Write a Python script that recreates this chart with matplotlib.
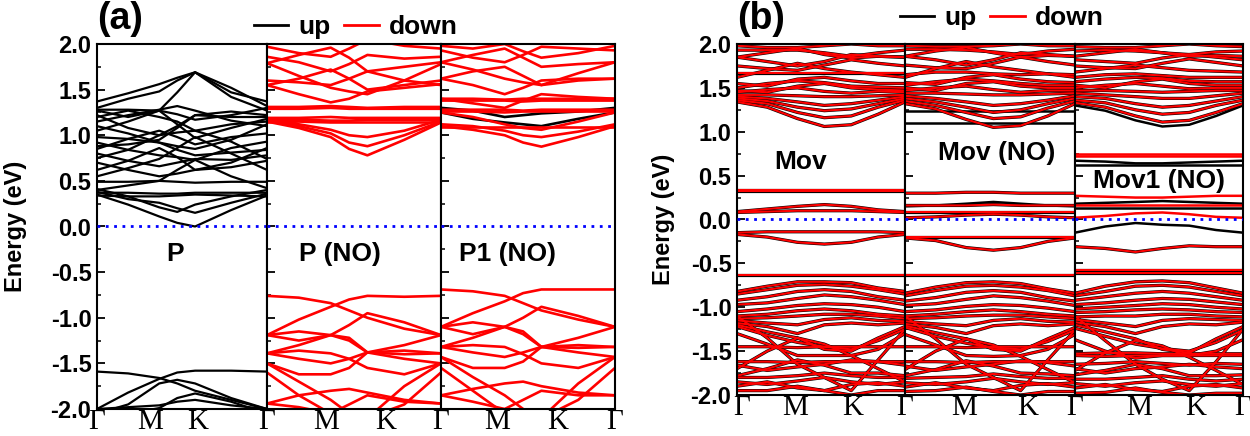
import matplotlib
matplotlib.use("Agg")
import matplotlib.pyplot as plt
from matplotlib.lines import Line2D
from matplotlib.ticker import MultipleLocator

plt.rcParams['font.family'] = ['Liberation Sans', 'DejaVu Sans']
plt.rcParams['axes.unicode_minus'] = False

# ---------------- data ----------------
# k positions (fraction of path) for panel (a) and (b): G, mid, M, mid, K, mid, G
k_a = [0, 0.183, 0.366, 0.472, 0.577, 0.789, 1.0]
k_b = [0, 0.18, 0.36, 0.52, 0.68, 0.84, 1.0]
kpath_labels = ['Γ', 'M', 'K', 'Γ']

# (a) P : spin up (black)
P_up = [
    [1.37, 1.46, 1.56, 1.63, 1.69, 1.47, 1.37],
    [1.30, 1.40, 1.48, 1.60, 1.69, 1.52, 1.32],
    [1.28, 1.28, 1.27, 1.47, 1.69, 1.42, 1.27],
    [1.27, 1.20, 1.27, 1.23, 1.17, 1.22, 1.30],
    [1.22, 1.08, 1.00, 1.10, 1.22, 1.26, 1.22],
    [1.15, 1.22, 1.28, 1.32, 1.27, 1.16, 1.10],
    [1.05, 1.15, 1.27, 1.12, 0.97, 1.08, 1.18],
    [0.98, 0.96, 1.05, 0.98, 0.90, 0.98, 1.02],
    [0.92, 0.84, 0.78, 0.76, 0.73, 0.86, 0.93],
    [0.85, 0.96, 0.92, 0.84, 0.78, 0.81, 0.84],
    [0.80, 0.72, 0.66, 0.70, 0.74, 0.73, 0.78],
    [0.75, 0.84, 1.00, 1.03, 1.05, 0.93, 0.74],
    [0.62, 0.72, 0.86, 0.76, 0.62, 0.70, 0.86],
    [0.55, 0.64, 0.74, 0.86, 0.98, 0.80, 0.62],
    [0.70, 0.62, 0.55, 0.58, 0.62, 0.65, 0.72],
    [1.10, 1.02, 0.92, 0.88, 0.85, 0.95, 1.12],
    [0.88, 0.90, 0.95, 1.08, 1.22, 1.20, 1.20],
    [1.20, 1.27, 1.20, 1.15, 1.05, 1.12, 1.15],
    [0.49, 0.49, 0.50, 0.49, 0.48, 0.49, 0.49],
    [0.40, 0.45, 0.50, 0.62, 0.73, 0.55, 0.42],
    [0.37, 0.37, 0.36, 0.36, 0.37, 0.37, 0.37],
    [0.34, 0.33, 0.33, 0.34, 0.35, 0.34, 0.33],
    [0.38, 0.30, 0.26, 0.20, 0.15, 0.26, 0.36],
    [0.41, 0.33, 0.21, 0.16, 0.24, 0.33, 0.40],
    [0.35, 0.24, 0.11, 0.04, 0.00, 0.18, 0.34],
    [-1.59, -1.61, -1.66, -1.72, -1.80, -1.90, -2.00],
    [-2.00, -1.82, -1.67, -1.60, -1.58, -1.58, -1.59],
    [-2.05, -1.95, -1.72, -1.68, -1.72, -1.88, -2.00],
    [-2.10, -2.05, -1.99, -1.88, -1.83, -1.92, -2.05],
    [-2.00, -1.98, -1.96, -1.92, -1.90, -1.96, -2.00],
]

# (a) P (NO) : spin down (red)
PNO_down = [
    [1.31, 1.31, 1.32, 1.31, 1.30, 1.31, 1.31],
    [1.29, 1.29, 1.30, 1.29, 1.29, 1.29, 1.29],
    [1.19, 1.19, 1.20, 1.19, 1.19, 1.19, 1.19],
    [1.17, 1.17, 1.16, 1.16, 1.17, 1.17, 1.17],
    [1.14, 1.15, 1.14, 1.14, 1.14, 1.14, 1.14],
    [1.15, 1.08, 0.98, 0.85, 0.78, 0.95, 1.14],
    [1.16, 1.10, 1.02, 0.92, 0.88, 1.00, 1.15],
    [1.18, 1.12, 1.06, 1.00, 0.98, 1.05, 1.17],
    [1.55, 1.45, 1.36, 1.40, 1.48, 1.52, 1.56],
    [1.55, 1.62, 1.72, 1.62, 1.50, 1.55, 1.60],
    [1.79, 1.65, 1.52, 1.48, 1.45, 1.60, 1.78],
    [1.79, 1.88, 1.96, 1.85, 1.70, 1.75, 1.80],
    [1.86, 1.80, 1.70, 1.78, 1.88, 1.84, 1.86],
    [1.97, 1.90, 1.86, 1.95, 2.05, 1.98, 1.95],
    [1.60, 1.58, 1.55, 1.62, 1.70, 1.60, 1.55],
    [-0.76, -0.78, -0.84, -0.92, -1.00, -1.12, -1.19],
    [-1.19, -1.02, -0.88, -0.80, -0.76, -0.77, -0.76],
    [-1.19, -1.15, -1.19, -1.08, -0.95, -1.05, -1.19],
    [-1.19, -1.25, -1.19, -1.25, -1.38, -1.30, -1.19],
    [-1.39, -1.30, -1.19, -1.22, -1.38, -1.36, -1.39],
    [-1.39, -1.45, -1.50, -1.45, -1.38, -1.40, -1.39],
    [-1.39, -1.36, -1.39, -1.45, -1.55, -1.62, -1.50],
    [-1.50, -1.62, -1.62, -1.55, -1.38, -1.45, -1.50],
    [-1.50, -1.70, -1.90, -2.05, -2.10, -1.75, -1.50],
    [-1.94, -1.85, -1.80, -1.78, -1.82, -1.90, -1.94],
    [-1.94, -1.98, -2.05, -1.95, -1.85, -1.92, -1.94],
    [-1.60, -1.85, -2.05, -2.10, -2.10, -1.95, -1.60],
]

# (a) P1 (NO)
P1NO_up = [
    [1.25, 1.18, 1.14, 1.12, 1.10, 1.18, 1.25],
    [1.30, 1.27, 1.20, 1.22, 1.24, 1.26, 1.30],
]
P1NO_down = [
    [1.09, 1.09, 1.09, 1.09, 1.09, 1.09, 1.09],
    [1.10, 1.06, 1.00, 0.92, 0.875, 0.98, 1.10],
    [1.12, 1.10, 1.05, 1.00, 0.98, 1.04, 1.12],
    [1.25, 1.20, 1.12, 1.08, 1.06, 1.15, 1.25],
    [1.26, 1.26, 1.25, 1.26, 1.26, 1.26, 1.26],
    [1.28, 1.28, 1.28, 1.27, 1.28, 1.28, 1.28],
    [1.38, 1.38, 1.38, 1.37, 1.38, 1.38, 1.38],
    [1.40, 1.40, 1.39, 1.40, 1.40, 1.40, 1.40],
    [1.40, 1.35, 1.30, 1.38, 1.45, 1.42, 1.40],
    [1.62, 1.55, 1.45, 1.52, 1.60, 1.62, 1.62],
    [1.62, 1.70, 1.75, 1.65, 1.55, 1.60, 1.62],
    [1.80, 1.72, 1.62, 1.58, 1.55, 1.68, 1.80],
    [1.80, 1.88, 1.95, 1.85, 1.75, 1.78, 1.80],
    [1.93, 1.85, 1.80, 1.88, 1.97, 1.95, 1.93],
    [1.98, 1.95, 2.00, 1.92, 1.85, 1.90, 1.98],
    [-0.69, -0.71, -0.76, -0.84, -0.92, -1.02, -1.10],
    [-1.10, -0.95, -0.82, -0.73, -0.69, -0.69, -0.69],
    [-1.10, -1.05, -1.10, -1.00, -0.88, -0.98, -1.10],
    [-1.10, -1.18, -1.10, -1.18, -1.32, -1.22, -1.10],
    [-1.32, -1.22, -1.10, -1.15, -1.32, -1.30, -1.32],
    [-1.32, -1.38, -1.43, -1.38, -1.32, -1.33, -1.32],
    [-1.32, -1.30, -1.32, -1.40, -1.50, -1.55, -1.43],
    [-1.43, -1.55, -1.55, -1.48, -1.32, -1.38, -1.43],
    [-1.43, -1.65, -1.85, -2.00, -2.10, -1.72, -1.43],
    [-1.85, -1.78, -1.72, -1.70, -1.75, -1.82, -1.85],
    [-1.85, -1.92, -2.00, -1.90, -1.80, -1.85, -1.85],
    [-1.55, -1.80, -2.05, -2.10, -2.10, -1.90, -1.55],
]

# (b) Mov : up and down nearly identical
Mov_bands = [
    [1.34, 1.28, 1.15, 1.06, 1.08, 1.20, 1.34],
    [1.36, 1.32, 1.22, 1.16, 1.18, 1.28, 1.36],
    [1.38, 1.35, 1.28, 1.24, 1.26, 1.32, 1.38],
    [1.40, 1.38, 1.34, 1.30, 1.32, 1.36, 1.40],
    [1.42, 1.42, 1.41, 1.40, 1.40, 1.41, 1.42],
    [1.45, 1.48, 1.50, 1.46, 1.44, 1.46, 1.45],
    [1.47, 1.45, 1.52, 1.55, 1.50, 1.48, 1.47],
    [1.50, 1.55, 1.58, 1.56, 1.52, 1.51, 1.50],
    [1.55, 1.52, 1.60, 1.62, 1.58, 1.55, 1.55],
    [1.67, 1.67, 1.67, 1.67, 1.67, 1.67, 1.67],
    [1.62, 1.70, 1.78, 1.72, 1.68, 1.65, 1.62],
    [1.75, 1.72, 1.70, 1.76, 1.82, 1.78, 1.75],
    [1.85, 1.80, 1.75, 1.80, 1.88, 1.86, 1.85],
    [1.85, 1.90, 1.95, 1.88, 1.84, 1.86, 1.85],
    [1.93, 1.93, 1.93, 1.90, 1.86, 1.90, 1.93],
    [1.98, 1.96, 1.96, 1.98, 2.00, 1.98, 1.98],
    [0.33, 0.33, 0.33, 0.33, 0.33, 0.33, 0.33],
    [0.34, 0.34, 0.34, 0.34, 0.34, 0.34, 0.34],
    [0.09, 0.12, 0.15, 0.17, 0.15, 0.11, 0.09],
    [0.08, 0.09, 0.10, 0.10, 0.10, 0.09, 0.08],
    [-0.17, -0.20, -0.26, -0.28, -0.26, -0.20, -0.17],
    [-0.15, -0.14, -0.14, -0.14, -0.14, -0.14, -0.15],
    [-0.63, -0.63, -0.63, -0.63, -0.63, -0.63, -0.63],
    [-0.82, -0.76, -0.71, -0.71, -0.72, -0.78, -0.82],
    [-0.85, -0.80, -0.75, -0.74, -0.76, -0.80, -0.85],
    [-0.92, -0.88, -0.82, -0.80, -0.82, -0.88, -0.92],
    [-0.97, -0.95, -0.90, -0.86, -0.88, -0.92, -0.97],
    [-1.05, -1.02, -0.98, -0.96, -0.97, -1.00, -1.05],
    [-1.10, -1.08, -1.04, -1.02, -1.04, -1.08, -1.10],
    [-1.13, -1.12, -1.10, -1.08, -1.08, -1.10, -1.13],
    [-1.15, -1.18, -1.20, -1.14, -1.12, -1.15, -1.16],
    [-1.18, -1.22, -1.30, -1.20, -1.18, -1.20, -1.18],
    [-1.20, -1.28, -1.35, -1.48, -1.50, -1.35, -1.22],
    [-1.22, -1.32, -1.40, -1.45, -1.48, -1.38, -1.25],
    [-1.45, -1.45, -1.46, -1.45, -1.45, -1.45, -1.45],
    [-1.30, -1.42, -1.55, -1.55, -1.55, -1.48, -1.30],
    [-1.62, -1.62, -1.63, -1.62, -1.62, -1.62, -1.62],
    [-1.66, -1.72, -1.68, -1.65, -1.60, -1.62, -1.66],
    [-1.78, -1.70, -1.60, -1.66, -1.75, -1.75, -1.78],
    [-1.80, -1.80, -1.78, -1.75, -1.78, -1.80, -1.80],
    [-1.85, -1.88, -1.84, -1.80, -1.85, -1.88, -1.85],
    [-1.90, -1.85, -1.92, -1.95, -1.88, -1.86, -1.90],
    [-1.95, -1.95, -1.90, -1.95, -2.00, -1.95, -1.95],
    [-1.10, -1.35, -1.65, -1.80, -1.95, -1.60, -1.25],
    [-1.70, -1.50, -1.35, -1.42, -1.55, -1.70, -1.85],
]

# (b) Mov (NO)
MovNO_up = [
    [1.24, 1.24, 1.24, 1.24, 1.24, 1.24, 1.24],
    [1.10, 1.10, 1.10, 1.10, 1.10, 1.10, 1.10],
    [0.15, 0.16, 0.18, 0.20, 0.18, 0.16, 0.15],
]
MovNO_down = [
    [1.32, 1.26, 1.14, 1.05, 1.07, 1.18, 1.32],
    [1.35, 1.30, 1.22, 1.15, 1.17, 1.27, 1.35],
    [1.38, 1.34, 1.28, 1.22, 1.25, 1.32, 1.38],
    [1.41, 1.38, 1.34, 1.30, 1.32, 1.36, 1.41],
    [1.44, 1.44, 1.43, 1.42, 1.42, 1.43, 1.44],
    [1.47, 1.50, 1.52, 1.48, 1.45, 1.47, 1.47],
    [1.50, 1.47, 1.55, 1.57, 1.52, 1.50, 1.50],
    [1.53, 1.57, 1.60, 1.58, 1.55, 1.53, 1.53],
    [1.56, 1.54, 1.62, 1.65, 1.60, 1.57, 1.56],
    [1.65, 1.68, 1.68, 1.66, 1.65, 1.66, 1.65],
    [1.62, 1.72, 1.80, 1.74, 1.70, 1.66, 1.62],
    [1.76, 1.73, 1.72, 1.78, 1.85, 1.80, 1.76],
    [1.86, 1.82, 1.76, 1.82, 1.90, 1.88, 1.86],
    [1.86, 1.92, 1.96, 1.90, 1.85, 1.87, 1.86],
    [1.94, 1.94, 1.93, 1.91, 1.88, 1.92, 1.94],
    [1.98, 1.97, 1.97, 1.98, 2.00, 1.98, 1.98],
    [0.30, 0.30, 0.31, 0.31, 0.30, 0.30, 0.30],
    [0.16, 0.16, 0.16, 0.17, 0.16, 0.16, 0.16],
    [0.09, 0.09, 0.09, 0.09, 0.09, 0.09, 0.09],
    [0.02, 0.03, 0.05, 0.06, 0.05, 0.03, 0.02],
    [-0.21, -0.24, -0.32, -0.35, -0.32, -0.25, -0.21],
    [-0.20, -0.20, -0.20, -0.20, -0.20, -0.20, -0.20],
    [-0.63, -0.63, -0.63, -0.63, -0.63, -0.63, -0.63],
    [-0.84, -0.77, -0.72, -0.71, -0.73, -0.79, -0.84],
    [-0.87, -0.81, -0.76, -0.75, -0.77, -0.81, -0.87],
    [-0.93, -0.89, -0.83, -0.81, -0.83, -0.89, -0.93],
    [-0.98, -0.96, -0.91, -0.87, -0.89, -0.93, -0.98],
    [-1.05, -1.03, -0.99, -0.97, -0.98, -1.01, -1.05],
    [-1.10, -1.08, -1.05, -1.03, -1.05, -1.08, -1.10],
    [-1.13, -1.12, -1.10, -1.09, -1.09, -1.11, -1.13],
    [-1.16, -1.19, -1.21, -1.15, -1.13, -1.16, -1.17],
    [-1.19, -1.23, -1.30, -1.21, -1.19, -1.21, -1.19],
    [-1.21, -1.29, -1.36, -1.48, -1.50, -1.36, -1.23],
    [-1.23, -1.33, -1.41, -1.46, -1.48, -1.39, -1.26],
    [-1.45, -1.45, -1.46, -1.45, -1.45, -1.45, -1.45],
    [-1.31, -1.43, -1.55, -1.56, -1.55, -1.48, -1.31],
    [-1.62, -1.62, -1.63, -1.62, -1.62, -1.62, -1.62],
    [-1.67, -1.72, -1.68, -1.65, -1.61, -1.63, -1.67],
    [-1.78, -1.71, -1.61, -1.67, -1.75, -1.76, -1.78],
    [-1.81, -1.80, -1.79, -1.76, -1.79, -1.81, -1.81],
    [-1.86, -1.88, -1.85, -1.81, -1.85, -1.88, -1.86],
    [-1.91, -1.86, -1.92, -1.95, -1.89, -1.87, -1.91],
    [-1.96, -1.95, -1.91, -1.96, -2.00, -1.96, -1.96],
    [-1.10, -1.36, -1.65, -1.80, -1.95, -1.60, -1.26],
    [-1.71, -1.50, -1.36, -1.43, -1.56, -1.71, -1.86],
]

# (b) Mov1 (NO)
Mov1NO_up = [
    [1.30, 1.24, 1.13, 1.06, 1.08, 1.18, 1.30],
    [0.67, 0.66, 0.64, 0.64, 0.65, 0.66, 0.67],
    [0.62, 0.62, 0.62, 0.62, 0.62, 0.62, 0.62],
    [0.18, 0.19, 0.20, 0.21, 0.20, 0.19, 0.18],
    [0.13, 0.13, 0.13, 0.13, 0.13, 0.13, 0.13],
    [-0.15, -0.08, -0.04, -0.06, -0.07, -0.12, -0.15],
]
Mov1NO_down = [
    [0.75, 0.75, 0.75, 0.75, 0.75, 0.75, 0.75],
    [0.72, 0.72, 0.72, 0.72, 0.72, 0.72, 0.72],
    [0.27, 0.26, 0.25, 0.25, 0.26, 0.27, 0.27],
    [0.16, 0.16, 0.16, 0.16, 0.16, 0.16, 0.16],
    [0.02, 0.04, 0.07, 0.08, 0.06, 0.03, 0.02],
]
Mov1NO_both = [
    [1.33, 1.28, 1.18, 1.11, 1.13, 1.22, 1.32],
    [1.36, 1.33, 1.25, 1.20, 1.22, 1.30, 1.36],
    [1.40, 1.38, 1.32, 1.28, 1.30, 1.35, 1.40],
    [1.44, 1.42, 1.40, 1.38, 1.38, 1.41, 1.44],
    [1.47, 1.47, 1.46, 1.45, 1.46, 1.47, 1.47],
    [1.50, 1.53, 1.55, 1.52, 1.49, 1.50, 1.50],
    [1.53, 1.50, 1.57, 1.60, 1.55, 1.53, 1.53],
    [1.57, 1.60, 1.62, 1.61, 1.58, 1.57, 1.57],
    [1.62, 1.65, 1.66, 1.64, 1.62, 1.62, 1.62],
    [1.68, 1.72, 1.76, 1.73, 1.70, 1.69, 1.68],
    [1.75, 1.73, 1.72, 1.78, 1.83, 1.79, 1.75],
    [1.82, 1.80, 1.78, 1.84, 1.88, 1.85, 1.82],
    [1.86, 1.90, 1.94, 1.90, 1.86, 1.87, 1.86],
    [1.92, 1.93, 1.92, 1.90, 1.88, 1.91, 1.92],
    [1.97, 1.96, 1.96, 1.98, 2.00, 1.98, 1.97],
    [-0.31, -0.33, -0.37, -0.33, -0.30, -0.31, -0.31],
    [-0.57, -0.57, -0.57, -0.57, -0.57, -0.57, -0.57],
    [-0.61, -0.61, -0.61, -0.61, -0.61, -0.61, -0.61],
    [-0.84, -0.76, -0.71, -0.70, -0.72, -0.78, -0.84],
    [-0.87, -0.82, -0.76, -0.75, -0.77, -0.82, -0.87],
    [-0.92, -0.88, -0.84, -0.82, -0.84, -0.88, -0.92],
    [-0.97, -0.95, -0.92, -0.90, -0.91, -0.94, -0.97],
    [-1.02, -1.00, -0.98, -0.96, -0.97, -1.00, -1.02],
    [-1.06, -1.05, -1.03, -1.02, -1.03, -1.05, -1.06],
    [-1.11, -1.10, -1.10, -1.08, -1.08, -1.10, -1.11],
    [-1.14, -1.18, -1.22, -1.15, -1.13, -1.14, -1.15],
    [-1.17, -1.22, -1.30, -1.22, -1.19, -1.20, -1.17],
    [-1.20, -1.28, -1.36, -1.48, -1.52, -1.36, -1.22],
    [-1.24, -1.33, -1.42, -1.47, -1.50, -1.40, -1.26],
    [-1.37, -1.50, -1.58, -1.55, -1.55, -1.50, -1.37],
    [-1.53, -1.52, -1.52, -1.53, -1.53, -1.53, -1.53],
    [-1.55, -1.56, -1.55, -1.55, -1.55, -1.55, -1.55],
    [-1.65, -1.64, -1.62, -1.64, -1.66, -1.64, -1.65],
    [-1.70, -1.75, -1.70, -1.68, -1.65, -1.68, -1.70],
    [-1.77, -1.72, -1.65, -1.70, -1.78, -1.78, -1.77],
    [-1.82, -1.82, -1.80, -1.78, -1.82, -1.84, -1.82],
    [-1.87, -1.90, -1.86, -1.84, -1.88, -1.90, -1.87],
    [-1.92, -1.88, -1.94, -1.96, -1.90, -1.88, -1.92],
    [-1.98, -1.97, -1.92, -1.97, -2.00, -1.98, -1.98],
    [-1.10, -1.38, -1.65, -1.82, -1.95, -1.62, -1.25],
    [-1.72, -1.52, -1.38, -1.44, -1.57, -1.72, -1.88],
]

panel_a_names = ['P', 'P (NO)', 'P1 (NO)']
panel_b_names = ['Mov', 'Mov (NO)', 'Mov1 (NO)']
yticks = [-2.0, -1.5, -1.0, -0.5, 0.0, 0.5, 1.0, 1.5, 2.0]

# ---------------- figure ----------------
W, H = 1250, 436
fig = plt.figure(figsize=(W / 100, H / 100), dpi=100)


def px_axes(x0, x1, ytop, ybot):
    return fig.add_axes([x0 / W, 1 - ybot / H, (x1 - x0) / W, (ybot - ytop) / H])


def draw(ax, k, bands, color, lw):
    for b in bands:
        ax.plot(k, b, color=color, lw=lw, solid_joinstyle='round')


def style(ax, first, label_pos):
    ax.set_xlim(0, 1)
    ax.set_ylim(-2, 2)
    ax.axhline(0, color='blue', ls=(0, (1, 2)), lw=2.0, zorder=5)
    ax.yaxis.set_major_locator(MultipleLocator(0.5))
    ax.yaxis.set_minor_locator(MultipleLocator(0.25))
    ax.tick_params(axis='y', which='major', direction='in', length=6, width=1.3,
                   labelsize=17, pad=4)
    ax.tick_params(axis='y', which='minor', direction='in', length=3, width=1.1)
    if first:
        ax.set_yticks(yticks)
        ax.set_yticklabels(['%.1f' % v for v in yticks], fontweight='bold')
    else:
        ax.tick_params(axis='y', labelleft=False)
    ax.set_xticks(label_pos)
    labs = kpath_labels if first else kpath_labels[1:]
    ax.set_xticklabels(labs, family=['Liberation Serif', 'DejaVu Serif'], fontsize=21)
    ax.tick_params(axis='x', length=0, pad=0)
    for s in ax.spines.values():
        s.set_linewidth(1.5)


# ---- panel (a) ----
a_edges = [97, 267, 441, 615]
axa = [px_axes(a_edges[i], a_edges[i + 1], 44, 409) for i in range(3)]
draw(axa[0], k_a, P_up, 'black', 1.6)
draw(axa[1], k_a, PNO_down, 'red', 1.9)
draw(axa[2], k_a, P1NO_up, 'black', 1.9)
draw(axa[2], k_a, P1NO_down, 'red', 1.9)
style(axa[0], True, [0, 0.31, 0.59, 1.0])
style(axa[1], False, [0.34, 0.68, 1.0])
style(axa[2], False, [0.32, 0.67, 1.0])
axa[0].set_ylabel('Energy (eV)', fontsize=17, fontweight='bold')
axa[0].yaxis.set_label_coords(-0.41, 0.5)
for ax, name, tx in zip(axa, panel_a_names, [0.46, 0.42, 0.38]):
    ax.text(tx, -0.30, name, fontsize=19, fontweight='bold', ha='center', va='center', zorder=6)

# ---- panel (b) ----
b_edges = [737, 905, 1075, 1243]
axb = [px_axes(b_edges[i], b_edges[i + 1], 44, 395) for i in range(3)]
draw(axb[0], k_b, Mov_bands, 'black', 2.3)
draw(axb[0], k_b, Mov_bands, 'red', 1.5)
draw(axb[1], k_b, MovNO_up, 'black', 1.8)
draw(axb[1], k_b, MovNO_down, 'black', 2.3)
draw(axb[1], k_b, MovNO_down, 'red', 1.5)
draw(axb[2], k_b, Mov1NO_up, 'black', 1.8)
draw(axb[2], k_b, Mov1NO_both, 'black', 2.3)
draw(axb[2], k_b, Mov1NO_both, 'red', 1.5)
draw(axb[2], k_b, Mov1NO_down, 'red', 1.8)
style(axb[0], True, [0.03, 0.345, 0.69, 0.995])
style(axb[1], False, [0.35, 0.72, 1.0])
style(axb[2], False, [0.38, 0.72, 1.0])
axb[0].set_ylabel('Energy (eV)', fontsize=17, fontweight='bold')
axb[0].yaxis.set_label_coords(-0.37, 0.5)
axb[0].text(0.38, 0.66, panel_b_names[0], fontsize=19, fontweight='bold', ha='center', va='center')
axb[1].text(0.54, 0.76, panel_b_names[1], fontsize=19, fontweight='bold', ha='center', va='center')
axb[2].text(0.50, 0.44, panel_b_names[2], fontsize=19, fontweight='bold', ha='center', va='center',
            bbox=dict(facecolor='white', edgecolor='none', pad=0.5))

# ---- panel labels and legends ----
fig.text(97 / W, 1 - 19 / H, '(a)', fontsize=27, fontweight='bold', ha='left', va='center')
fig.text(737 / W, 1 - 19 / H, '(b)', fontsize=27, fontweight='bold', ha='left', va='center')

handles = [Line2D([], [], color='black', lw=2), Line2D([], [], color='red', lw=2)]
for cx, cy in [(356, 27), (1002, 18)]:
    fig.legend(handles, ['up', 'down'], loc='center', bbox_to_anchor=(cx / W, 1 - cy / H),
               ncol=2, frameon=False, handlelength=1.3, handletextpad=0.4,
               columnspacing=0.5, prop={'weight': 'bold', 'size': 19}, borderpad=0)

fig.savefig('out.png', dpi=100)
